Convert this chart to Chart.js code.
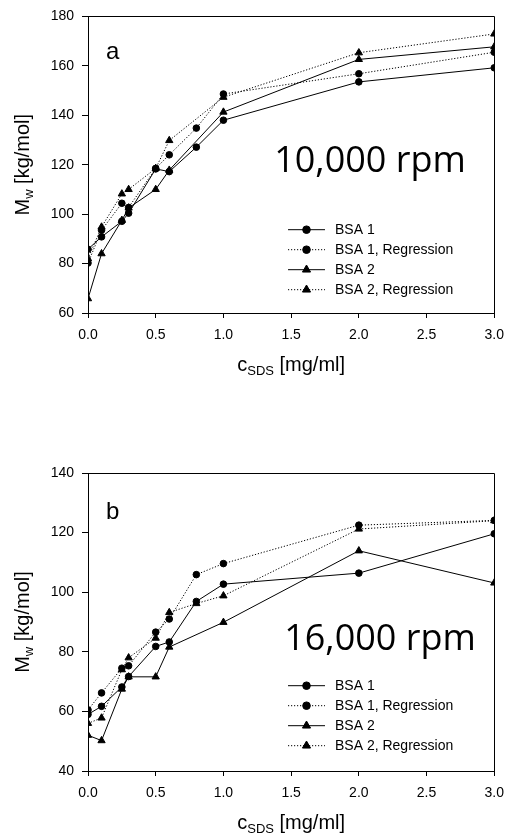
<!DOCTYPE html>
<html>
<head>
<meta charset="utf-8">
<title>BSA molar mass vs SDS concentration</title>
<script src="https://cdn.jsdelivr.net/npm/chart.js@4.4.1/dist/chart.umd.min.js"></script>
<style>
  html, body { margin: 0; padding: 0; background: #fff; }
  .panel { position: absolute; left: 0; width: 513px; height: 420px; }
</style>
</head>
<body>
<div class="panel" style="top:0"><canvas id="chartA" width="513" height="420"></canvas></div>
<div class="panel" style="top:420px"><canvas id="chartB" width="513" height="420"></canvas></div>
<script>
// SDS concentrations (mg/ml) shared by both runs
const concentrations = [0, 0.1, 0.25, 0.3, 0.5, 0.6, 0.8, 1.0, 2.0, 3.0];
const seriesNames = ['BSA 1', 'BSA 1, Regression', 'BSA 2', 'BSA 2, Regression'];

// Weight-average molar mass Mw (kg/mol) at 10,000 rpm
const bsa1_10k    = [85.8, 90.8, 97.1, 100.4, 118.3, 117.2, 127.1, 138.0, 153.5, 159.2];
const bsa1Reg_10k = [80.2, 93.5, 104.4, 102.7, 118.5, 124.0, 134.8, 148.6, 156.8, 165.5];
const bsa2_10k    = [65.8, 84.0, 97.5, 102.5, 110.0, 117.8, null, 141.3, 162.6, 167.7];
const bsa2Reg_10k = [82.0, 94.8, 108.2, 110.0, 118.5, 129.8, null, 147.3, 165.3, 172.9];

// Weight-average molar mass Mw (kg/mol) at 16,000 rpm
const bsa1_16k    = [59.0, 61.7, 68.2, 71.7, 81.8, 83.3, 96.9, 102.7, 106.4, 119.6];
const bsa1Reg_16k = [60.5, 66.2, 74.5, 75.3, 86.6, 91.0, 105.9, 109.6, 122.5, 124.1];
const bsa2_16k    = [52.0, 50.2, 67.5, 71.6, 71.6, 81.6, null, 89.9, 113.9, 103.1];
const bsa2Reg_16k = [56.0, 57.8, 74.0, 78.0, 84.6, 93.2, 96.2, 98.8, 121.2, 124.0];

// Axis ticks
const xTicks     = [0, 0.5, 1.0, 1.5, 2.0, 2.5, 3.0];
const yTicks_10k = [60, 80, 100, 120, 140, 160, 180];
const yTicks_16k = [40, 60, 80, 100, 120, 140];

const FONT = '"Liberation Sans", Arial, Helvetica, sans-serif';
Chart.defaults.font.family = FONT;
Chart.defaults.color = '#000';

const seriesStyles = [
  { dash: [],       style: 'circle',   radius: 3.3 },
  { dash: [1.2, 1.8], style: 'circle', radius: 3.3 },
  { dash: [],       style: 'triangle', radius: 4.2 },
  { dash: [1.2, 1.8], style: 'triangle', radius: 4.2 }
];

function buildDatasets(seriesList) {
  return seriesList.map((values, i) => ({
    label: seriesNames[i],
    data: concentrations
      .map((c, k) => ({ x: c, y: values[k] }))
      .filter(p => p.y !== null),
    borderColor: '#000',
    backgroundColor: '#000',
    borderWidth: 1,
    borderDash: seriesStyles[i].dash,
    pointStyle: seriesStyles[i].style,
    pointRadius: seriesStyles[i].radius,
    pointBorderWidth: 1,
    pointBackgroundColor: '#000',
    pointBorderColor: '#000',
    tension: 0,
    fill: false
  }));
}

function drawMarker(ctx, style, x, y, r) {
  ctx.beginPath();
  if (style === 'circle') {
    ctx.arc(x, y, r, 0, Math.PI * 2);
  } else {
    let rad = 0;
    const step = Math.PI * 2 / 3;
    ctx.moveTo(x + Math.sin(rad) * r, y - Math.cos(rad) * r);
    rad += step;
    ctx.lineTo(x + Math.sin(rad) * r, y - Math.cos(rad) * r);
    rad += step;
    ctx.lineTo(x + Math.sin(rad) * r, y - Math.cos(rad) * r);
    ctx.closePath();
  }
  ctx.fill();
  ctx.stroke();
}

// Draws the box frame, axis titles with subscripts, panel letter, speed label and key
const panelDecor = {
  id: 'panelDecor',
  afterDraw(chart, args, opts) {
    const ctx = chart.ctx;
    const a = chart.chartArea;
    ctx.save();

    // top and right frame edges
    ctx.strokeStyle = '#000';
    ctx.lineWidth = 1;
    ctx.setLineDash([]);
    ctx.beginPath();
    ctx.moveTo(Math.round(a.left), Math.round(a.top) + 0.5);
    ctx.lineTo(Math.round(a.right) + 0.5, Math.round(a.top) + 0.5);
    ctx.lineTo(Math.round(a.right) + 0.5, Math.round(a.bottom));
    ctx.stroke();

    ctx.fillStyle = '#000';

    // y axis title: M_w [kg/mol]
    const big = '20px ' + FONT, small = '13px ' + FONT;
    ctx.save();
    ctx.translate(opts.yTitleX, (a.top + a.bottom) / 2);
    ctx.rotate(-Math.PI / 2);
    ctx.textBaseline = 'alphabetic';
    ctx.textAlign = 'left';
    ctx.font = big;  const wM = ctx.measureText('M').width;
    ctx.font = small; const ww = ctx.measureText('w').width;
    ctx.font = big;  const wRest = ctx.measureText(' [kg/mol]').width;
    let sx = -(wM + ww + wRest) / 2;
    ctx.font = big;  ctx.fillText('M', sx, 0); sx += wM;
    ctx.font = small; ctx.fillText('w', sx, 4); sx += ww;
    ctx.font = big;  ctx.fillText(' [kg/mol]', sx, 0);
    ctx.restore();

    // x axis title: c_SDS [mg/ml]
    ctx.textBaseline = 'alphabetic';
    ctx.textAlign = 'left';
    ctx.font = big;  const wc = ctx.measureText('c').width;
    ctx.font = small; const wS = ctx.measureText('SDS').width;
    ctx.font = big;  const wU = ctx.measureText(' [mg/ml]').width;
    let tx = (a.left + a.right) / 2 - (wc + wS + wU) / 2;
    const ty = a.bottom + opts.xTitleOffset;
    ctx.font = big;  ctx.fillText('c', tx, ty); tx += wc;
    ctx.font = small; ctx.fillText('SDS', tx, ty + 4); tx += wS;
    ctx.font = big;  ctx.fillText(' [mg/ml]', tx, ty);

    // panel letter
    ctx.font = '24px ' + FONT;
    ctx.fillText(opts.letter, opts.letterX, a.top + opts.letterDy);

    // rotor speed
    ctx.font = '36px "Open Sans", "Noto Sans", sans-serif';
    ctx.textAlign = 'center';
    ctx.fillText(opts.speed, opts.speedX, a.top + opts.speedDy);

    // key
    ctx.font = '14px ' + FONT;
    ctx.textAlign = 'left';
    ctx.textBaseline = 'middle';
    chart.data.datasets.forEach((ds, i) => {
      const y = a.top + opts.keyDy + i * 20;
      ctx.setLineDash(ds.borderDash || []);
      ctx.lineWidth = 1;
      ctx.beginPath();
      ctx.moveTo(288, y);
      ctx.lineTo(325, y);
      ctx.stroke();
      ctx.setLineDash([]);
      drawMarker(ctx, ds.pointStyle, 306.5, y, ds.pointRadius + 0.5);
      ctx.fillText(ds.label, 335, y + 0.5);
    });

    ctx.restore();
  }
};

function makeChart(canvasId, seriesList, yTicks, pad, decor) {
  return new Chart(document.getElementById(canvasId), {
    type: 'line',
    data: { datasets: buildDatasets(seriesList) },
    options: {
      responsive: false,
      animation: false,
      devicePixelRatio: 1,
      events: [],
      layout: { padding: pad },
      plugins: {
        legend: { display: false },
        tooltip: { enabled: false },
        panelDecor: decor
      },
      scales: {
        x: {
          type: 'linear',
          min: xTicks[0],
          max: xTicks[xTicks.length - 1],
          afterBuildTicks: s => { s.ticks = xTicks.map(v => ({ value: v })); },
          afterFit: s => { s.height = 40; },
          ticks: {
            font: { size: 14 },
            color: '#000',
            padding: 9,
            maxRotation: 0,
            callback: v => Number(v).toFixed(1)
          },
          grid: { display: true, drawOnChartArea: false, drawTicks: true, tickLength: 5, color: '#000' },
          border: { display: true, color: '#000', width: 1 }
        },
        y: {
          type: 'linear',
          min: yTicks[0],
          max: yTicks[yTicks.length - 1],
          afterBuildTicks: s => { s.ticks = yTicks.map(v => ({ value: v })); },
          afterFit: s => { s.width = 88; },
          ticks: {
            font: { size: 14 },
            color: '#000',
            padding: 8,
            callback: v => String(v)
          },
          grid: { display: true, drawOnChartArea: false, drawTicks: true, tickLength: 6, color: '#000' },
          border: { display: true, color: '#000', width: 1 }
        }
      }
    },
    plugins: [panelDecor]
  });
}

makeChart('chartA',
  [bsa1_10k, bsa1Reg_10k, bsa2_10k, bsa2Reg_10k],
  yTicks_10k,
  { top: 16, right: 11, left: 0, bottom: 67 },
  { letter: 'a', letterX: 106, letterDy: 43, speed: '10,000 rpm', speedX: 370, speedDy: 156,
    keyDy: 213.3, yTitleX: 29, xTitleOffset: 58 });

makeChart('chartB',
  [bsa1_16k, bsa1Reg_16k, bsa2_16k, bsa2Reg_16k],
  yTicks_16k,
  { top: 53, right: 11, left: 0, bottom: 29 },
  { letter: 'b', letterX: 106, letterDy: 46, speed: '16,000 rpm', speedX: 380, speedDy: 177,
    keyDy: 212.7, yTitleX: 29, xTitleOffset: 58 });
</script>
</body>
</html>
